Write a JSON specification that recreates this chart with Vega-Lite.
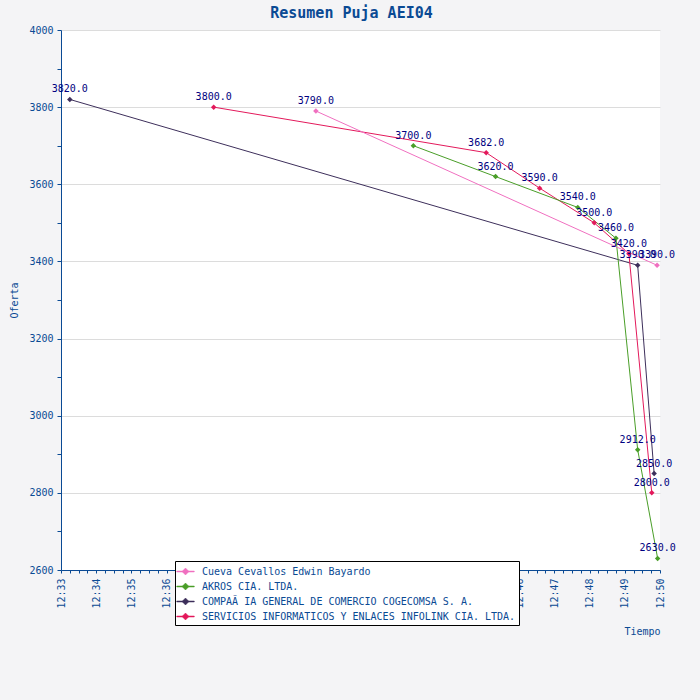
{
  "$schema": "https://vega.github.io/schema/vega-lite/v6.json",
  "width": 599,
  "height": 540,
  "autosize": {"type": "none"},
  "padding": {"left": 61, "top": 30, "right": 40, "bottom": 130},
  "background": "#f4f4f6",
  "title": {"text": "Resumen Puja AEI04", "font": "DejaVu Sans Mono", "fontSize": 15, "fontWeight": "bold", "color": "#0a4a94", "anchor": "middle", "frame": "group", "offset": 4, "dx": -9},
  "config": {
    "view": {"fill": "white", "stroke": null},
    "axis": {"domainColor": "#0a4a94", "tickColor": "#0a4a94", "labelColor": "#0a4a94", "titleColor": "#0a4a94", "labelFont": "DejaVu Sans Mono", "labelFontSize": 10, "titleFont": "DejaVu Sans Mono", "titleFontSize": 10, "titleFontWeight": "normal", "domainWidth": 1, "tickWidth": 1}
  },
  "data": {"values": [
    {"bidder": "COMPAÃ IA GENERAL DE COMERCIO COGECOMSA S. A.", "time": "2020-01-01T12:33:15", "value": 3820},
    {"bidder": "COMPAÃ IA GENERAL DE COMERCIO COGECOMSA S. A.", "time": "2020-01-01T12:49:22", "value": 3390},
    {"bidder": "COMPAÃ IA GENERAL DE COMERCIO COGECOMSA S. A.", "time": "2020-01-01T12:49:50", "value": 2850},
    {"bidder": "SERVICIOS INFORMATICOS Y ENLACES INFOLINK CIA. LTDA.", "time": "2020-01-01T12:37:20", "value": 3800},
    {"bidder": "SERVICIOS INFORMATICOS Y ENLACES INFOLINK CIA. LTDA.", "time": "2020-01-01T12:45:04", "value": 3682},
    {"bidder": "SERVICIOS INFORMATICOS Y ENLACES INFOLINK CIA. LTDA.", "time": "2020-01-01T12:46:35", "value": 3590},
    {"bidder": "SERVICIOS INFORMATICOS Y ENLACES INFOLINK CIA. LTDA.", "time": "2020-01-01T12:48:08", "value": 3500},
    {"bidder": "SERVICIOS INFORMATICOS Y ENLACES INFOLINK CIA. LTDA.", "time": "2020-01-01T12:49:07", "value": 3420},
    {"bidder": "SERVICIOS INFORMATICOS Y ENLACES INFOLINK CIA. LTDA.", "time": "2020-01-01T12:49:46", "value": 2800},
    {"bidder": "AKROS CIA. LTDA.", "time": "2020-01-01T12:43:00", "value": 3700},
    {"bidder": "AKROS CIA. LTDA.", "time": "2020-01-01T12:45:20", "value": 3620},
    {"bidder": "AKROS CIA. LTDA.", "time": "2020-01-01T12:47:40", "value": 3540},
    {"bidder": "AKROS CIA. LTDA.", "time": "2020-01-01T12:48:45", "value": 3460},
    {"bidder": "AKROS CIA. LTDA.", "time": "2020-01-01T12:49:22", "value": 2912},
    {"bidder": "AKROS CIA. LTDA.", "time": "2020-01-01T12:49:56", "value": 2630},
    {"bidder": "Cueva Cevallos Edwin Bayardo", "time": "2020-01-01T12:40:14", "value": 3790},
    {"bidder": "Cueva Cevallos Edwin Bayardo", "time": "2020-01-01T12:49:55", "value": 3390}
  ]},
  "encoding": {
    "x": {
      "field": "time", "type": "temporal",
      "scale": {"domain": [{"year": 2020, "month": 1, "date": 1, "hours": 12, "minutes": 33}, {"year": 2020, "month": 1, "date": 1, "hours": 12, "minutes": 50}], "nice": false},
      "axis": {"title": "Tiempo", "format": "%H:%M:%S",
        "values": [
          {"year": 2020, "month": 1, "date": 1, "hours": 12, "minutes": 33, "seconds": 0},
          {"year": 2020, "month": 1, "date": 1, "hours": 12, "minutes": 33, "seconds": 15},
          {"year": 2020, "month": 1, "date": 1, "hours": 12, "minutes": 33, "seconds": 30},
          {"year": 2020, "month": 1, "date": 1, "hours": 12, "minutes": 33, "seconds": 45},
          {"year": 2020, "month": 1, "date": 1, "hours": 12, "minutes": 34, "seconds": 0},
          {"year": 2020, "month": 1, "date": 1, "hours": 12, "minutes": 34, "seconds": 15},
          {"year": 2020, "month": 1, "date": 1, "hours": 12, "minutes": 34, "seconds": 30},
          {"year": 2020, "month": 1, "date": 1, "hours": 12, "minutes": 34, "seconds": 45},
          {"year": 2020, "month": 1, "date": 1, "hours": 12, "minutes": 35, "seconds": 0},
          {"year": 2020, "month": 1, "date": 1, "hours": 12, "minutes": 35, "seconds": 15},
          {"year": 2020, "month": 1, "date": 1, "hours": 12, "minutes": 35, "seconds": 30},
          {"year": 2020, "month": 1, "date": 1, "hours": 12, "minutes": 35, "seconds": 45},
          {"year": 2020, "month": 1, "date": 1, "hours": 12, "minutes": 36, "seconds": 0},
          {"year": 2020, "month": 1, "date": 1, "hours": 12, "minutes": 36, "seconds": 15},
          {"year": 2020, "month": 1, "date": 1, "hours": 12, "minutes": 36, "seconds": 30},
          {"year": 2020, "month": 1, "date": 1, "hours": 12, "minutes": 36, "seconds": 45},
          {"year": 2020, "month": 1, "date": 1, "hours": 12, "minutes": 37, "seconds": 0},
          {"year": 2020, "month": 1, "date": 1, "hours": 12, "minutes": 37, "seconds": 15},
          {"year": 2020, "month": 1, "date": 1, "hours": 12, "minutes": 37, "seconds": 30},
          {"year": 2020, "month": 1, "date": 1, "hours": 12, "minutes": 37, "seconds": 45},
          {"year": 2020, "month": 1, "date": 1, "hours": 12, "minutes": 38, "seconds": 0},
          {"year": 2020, "month": 1, "date": 1, "hours": 12, "minutes": 38, "seconds": 15},
          {"year": 2020, "month": 1, "date": 1, "hours": 12, "minutes": 38, "seconds": 30},
          {"year": 2020, "month": 1, "date": 1, "hours": 12, "minutes": 38, "seconds": 45},
          {"year": 2020, "month": 1, "date": 1, "hours": 12, "minutes": 39, "seconds": 0},
          {"year": 2020, "month": 1, "date": 1, "hours": 12, "minutes": 39, "seconds": 15},
          {"year": 2020, "month": 1, "date": 1, "hours": 12, "minutes": 39, "seconds": 30},
          {"year": 2020, "month": 1, "date": 1, "hours": 12, "minutes": 39, "seconds": 45},
          {"year": 2020, "month": 1, "date": 1, "hours": 12, "minutes": 40, "seconds": 0},
          {"year": 2020, "month": 1, "date": 1, "hours": 12, "minutes": 40, "seconds": 15},
          {"year": 2020, "month": 1, "date": 1, "hours": 12, "minutes": 40, "seconds": 30},
          {"year": 2020, "month": 1, "date": 1, "hours": 12, "minutes": 40, "seconds": 45},
          {"year": 2020, "month": 1, "date": 1, "hours": 12, "minutes": 41, "seconds": 0},
          {"year": 2020, "month": 1, "date": 1, "hours": 12, "minutes": 41, "seconds": 15},
          {"year": 2020, "month": 1, "date": 1, "hours": 12, "minutes": 41, "seconds": 30},
          {"year": 2020, "month": 1, "date": 1, "hours": 12, "minutes": 41, "seconds": 45},
          {"year": 2020, "month": 1, "date": 1, "hours": 12, "minutes": 42, "seconds": 0},
          {"year": 2020, "month": 1, "date": 1, "hours": 12, "minutes": 42, "seconds": 15},
          {"year": 2020, "month": 1, "date": 1, "hours": 12, "minutes": 42, "seconds": 30},
          {"year": 2020, "month": 1, "date": 1, "hours": 12, "minutes": 42, "seconds": 45},
          {"year": 2020, "month": 1, "date": 1, "hours": 12, "minutes": 43, "seconds": 0},
          {"year": 2020, "month": 1, "date": 1, "hours": 12, "minutes": 43, "seconds": 15},
          {"year": 2020, "month": 1, "date": 1, "hours": 12, "minutes": 43, "seconds": 30},
          {"year": 2020, "month": 1, "date": 1, "hours": 12, "minutes": 43, "seconds": 45},
          {"year": 2020, "month": 1, "date": 1, "hours": 12, "minutes": 44, "seconds": 0},
          {"year": 2020, "month": 1, "date": 1, "hours": 12, "minutes": 44, "seconds": 15},
          {"year": 2020, "month": 1, "date": 1, "hours": 12, "minutes": 44, "seconds": 30},
          {"year": 2020, "month": 1, "date": 1, "hours": 12, "minutes": 44, "seconds": 45},
          {"year": 2020, "month": 1, "date": 1, "hours": 12, "minutes": 45, "seconds": 0},
          {"year": 2020, "month": 1, "date": 1, "hours": 12, "minutes": 45, "seconds": 15},
          {"year": 2020, "month": 1, "date": 1, "hours": 12, "minutes": 45, "seconds": 30},
          {"year": 2020, "month": 1, "date": 1, "hours": 12, "minutes": 45, "seconds": 45},
          {"year": 2020, "month": 1, "date": 1, "hours": 12, "minutes": 46, "seconds": 0},
          {"year": 2020, "month": 1, "date": 1, "hours": 12, "minutes": 46, "seconds": 15},
          {"year": 2020, "month": 1, "date": 1, "hours": 12, "minutes": 46, "seconds": 30},
          {"year": 2020, "month": 1, "date": 1, "hours": 12, "minutes": 46, "seconds": 45},
          {"year": 2020, "month": 1, "date": 1, "hours": 12, "minutes": 47, "seconds": 0},
          {"year": 2020, "month": 1, "date": 1, "hours": 12, "minutes": 47, "seconds": 15},
          {"year": 2020, "month": 1, "date": 1, "hours": 12, "minutes": 47, "seconds": 30},
          {"year": 2020, "month": 1, "date": 1, "hours": 12, "minutes": 47, "seconds": 45},
          {"year": 2020, "month": 1, "date": 1, "hours": 12, "minutes": 48, "seconds": 0},
          {"year": 2020, "month": 1, "date": 1, "hours": 12, "minutes": 48, "seconds": 15},
          {"year": 2020, "month": 1, "date": 1, "hours": 12, "minutes": 48, "seconds": 30},
          {"year": 2020, "month": 1, "date": 1, "hours": 12, "minutes": 48, "seconds": 45},
          {"year": 2020, "month": 1, "date": 1, "hours": 12, "minutes": 49, "seconds": 0},
          {"year": 2020, "month": 1, "date": 1, "hours": 12, "minutes": 49, "seconds": 15},
          {"year": 2020, "month": 1, "date": 1, "hours": 12, "minutes": 49, "seconds": 30},
          {"year": 2020, "month": 1, "date": 1, "hours": 12, "minutes": 49, "seconds": 45},
          {"year": 2020, "month": 1, "date": 1, "hours": 12, "minutes": 50, "seconds": 0}
        ],
        "labelExpr": "slice(datum.label, 6) == '00' ? slice(datum.label, 0, 5) : ''",
        "labelAngle": 270, "labelAlign": "right", "labelBaseline": "middle", "labelPadding": 5, "tickSize": 3, "grid": false, "labelOverlap": false, "labelFlush": false, "labelBound": false, "titleX": 599, "titleY": 61, "titleAlign": "right", "titleBaseline": "middle"}
    },
    "y": {
      "field": "value", "type": "quantitative",
      "scale": {"domain": [2600, 4000], "nice": false, "zero": false},
      "axis": {"title": "Oferta", "values": [2600, 2700, 2800, 2900, 3000, 3100, 3200, 3300, 3400, 3500, 3600, 3700, 3800, 3900, 4000], "format": "d", "labelExpr": "datum.value % 200 == 0 ? datum.label : ''", "tickSize": 4, "grid": true, "gridColor": "#dcdcdc", "gridOpacity": {"condition": {"test": "datum.value % 200 == 0", "value": 1}, "value": 0}, "labelPadding": 4, "titleX": -47, "titleY": 270, "titleAlign": "center", "titleBaseline": "middle", "titleAngle": 270}
    },
    "color": {"field": "bidder", "type": "nominal", "scale": {"domain": ["Cueva Cevallos Edwin Bayardo", "AKROS CIA. LTDA.", "COMPAÃ IA GENERAL DE COMERCIO COGECOMSA S. A.", "SERVICIOS INFORMATICOS Y ENLACES INFOLINK CIA. LTDA."], "range": ["#f070c0", "#4a9e28", "#3d2f5b", "#e3195b"]},
      "legend": {"title": null, "orient": "none", "legendX": 114, "legendY": 531, "symbolType": "M-1.25,-0.07L1.25,-0.07L1.25,0.07L-1.25,0.07ZM0,-0.5L0.5,0L0,0.5L-0.5,0Z", "symbolSize": 196, "symbolStrokeWidth": 0.5, "labelFont": "DejaVu Sans Mono", "labelFontSize": 10, "labelColor": "#0a4a94", "labelLimit": 500, "rowPadding": 2, "padding": 3, "labelOffset": 9, "fillColor": "white", "strokeColor": "black", "cornerRadius": 0}}
  },
  "layer": [
    {
      "mark": {"type": "line", "strokeWidth": 1}
    },
    {
      "mark": {"type": "point", "filled": true, "shape": "diamond", "size": 30, "opacity": 1}
    },
    {
      "mark": {"type": "text", "dy": -10, "font": "DejaVu Sans Mono", "fontSize": 10, "color": "#000080"},
      "encoding": {"text": {"field": "value", "type": "quantitative", "format": ".1f"}, "color": {"value": "#000080"}}
    }
  ]
}
